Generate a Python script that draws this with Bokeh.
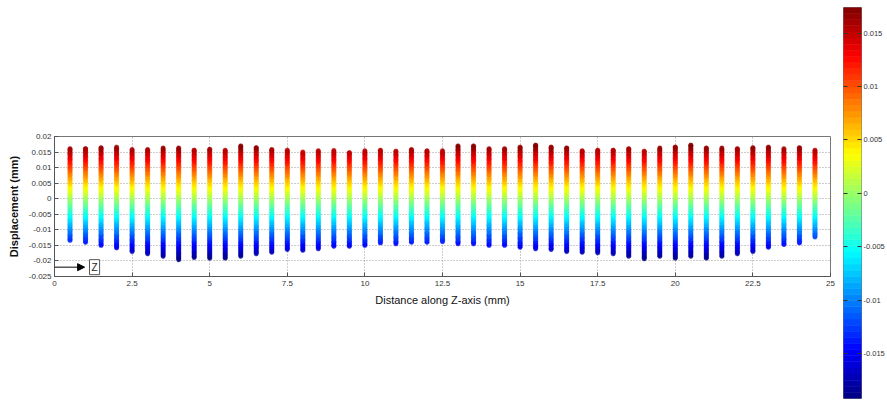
import numpy as np
from bokeh.plotting import figure
from bokeh.layouts import row
from bokeh.models import (Range1d, LinearColorMapper, FixedTicker, LinearAxis,
                          Label, Arrow, NormalHead, ColumnDataSource)
from bokeh.transform import transform
from bokeh.embed import file_html
from bokeh.resources import INLINE

# ---------------- data ----------------
z_positions = [0.5, 1.0, 1.5, 2.0, 2.5, 3.0, 3.5, 4.0, 4.5, 5.0, 5.5, 6.0, 6.5,
               7.0, 7.5, 8.0, 8.5, 9.0, 9.5, 10.0, 10.5, 11.0, 11.5, 12.0, 12.5,
               13.0, 13.5, 14.0, 14.5, 15.0, 15.5, 16.0, 16.5, 17.0, 17.5, 18.0,
               18.5, 19.0, 19.5, 20.0, 20.5, 21.0, 21.5, 22.0, 22.5, 23.0, 23.5,
               24.0, 24.5]
# highest displacement of each column of nodes (mm)
col_top = [0.0161, 0.0161, 0.0164, 0.0166, 0.0158, 0.0158, 0.0163, 0.0163, 0.0156,
           0.0159, 0.0156, 0.0170, 0.0164, 0.0158, 0.0156, 0.0150, 0.0154, 0.0155,
           0.0148, 0.0154, 0.0156, 0.0153, 0.0158, 0.0154, 0.0154,
           0.0170, 0.0170, 0.0161, 0.0161, 0.0166, 0.0172, 0.0166, 0.0163, 0.0154,
           0.0156, 0.0156, 0.0161, 0.0153, 0.0163, 0.0166, 0.0172, 0.0163, 0.0163,
           0.0161, 0.0164, 0.0166, 0.0161, 0.0164, 0.0156]
# lowest displacement of each column of nodes (mm)
col_bottom = [-0.0134, -0.0140, -0.0150, -0.0158, -0.0170, -0.0177, -0.0185, -0.0196,
              -0.0189, -0.0191, -0.0191, -0.0185, -0.0177, -0.0172, -0.0163, -0.0166,
              -0.0161, -0.0153, -0.0153, -0.0150, -0.0142, -0.0145, -0.0140, -0.0140,
              -0.0138,
              -0.0145, -0.0145, -0.0150, -0.0150, -0.0156, -0.0161, -0.0163, -0.0170,
              -0.0172, -0.0174, -0.0177, -0.0185, -0.0193, -0.0185, -0.0191, -0.0185,
              -0.0191, -0.0185, -0.0177, -0.0170, -0.0156, -0.0147, -0.0142, -0.0123]
node_spacing = 0.0004          # vertical spacing of the plotted nodes (mm)

x_ticks = [0, 2.5, 5, 7.5, 10, 12.5, 15, 17.5, 20, 22.5, 25]
x_tick_labels = ["0", "2.5", "5", "7.5", "10", "12.5", "15", "17.5", "20", "22.5", "25"]
y_ticks = [-0.025, -0.02, -0.015, -0.01, -0.005, 0, 0.005, 0.01, 0.015, 0.02]
y_tick_labels = ["-0.025", "-0.02", "-0.015", "-0.01", "-0.005", "0", "0.005",
                 "0.01", "0.015", "0.02"]
cb_ticks = [-0.015, -0.01, -0.005, 0, 0.005, 0.01, 0.015]
cb_tick_labels = ["-0.015", "-0.01", "-0.005", "0", "0.005", "0.01", "0.015"]
cb_low, cb_high = -0.0192, 0.0174

# ---------------- colormap (MATLAB jet, 64 levels) ----------------
def jet(n):
    out = []
    for i in range(n):
        t = (i + 0.5) / n
        r = min(max(1.5 - abs(4 * t - 3), 0), 1)
        g = min(max(1.5 - abs(4 * t - 2), 0), 1)
        b = min(max(1.5 - abs(4 * t - 1), 0), 1)
        out.append("#%02x%02x%02x" % (int(r * 255 + .5), int(g * 255 + .5), int(b * 255 + .5)))
    return out

palette = jet(64)
mapper = LinearColorMapper(palette=palette, low=cb_low, high=cb_high)

# ---------------- nodes ----------------
xs, ys = [], []
for zx, lo, hi in zip(z_positions, col_bottom, col_top):
    vals = list(np.arange(lo, hi, node_spacing)) + [hi]
    xs += [zx] * len(vals)
    ys += vals
src = ColumnDataSource(dict(x=xs, y=ys))

FONT = "Liberation Sans"

p = figure(width=836, height=403, x_range=Range1d(0, 25), y_range=Range1d(-0.025, 0.02),
           output_backend="svg", toolbar_location=None, frame_align=False,
           min_border_left=54, min_border_right=6, min_border_top=136, min_border_bottom=127)
p.background_fill_color = "white"
p.border_fill_color = "white"
p.outline_line_color = "#777777"

p.scatter("x", "y", source=src, size=4.4, fill_alpha=0.85,
          fill_color=transform("y", mapper), line_color=transform("y", mapper),
          line_width=0.5, line_alpha=0.85)

p.xaxis.ticker = FixedTicker(ticks=x_ticks)
p.xaxis.major_label_overrides = {t: l for t, l in zip(x_ticks, x_tick_labels)}
p.yaxis.ticker = FixedTicker(ticks=y_ticks)
p.yaxis.major_label_overrides = {t: l for t, l in zip(y_ticks, y_tick_labels)}
p.xgrid.ticker = FixedTicker(ticks=x_ticks)
p.ygrid.ticker = FixedTicker(ticks=y_ticks)
for g in (p.xgrid, p.ygrid):
    g.grid_line_color = "#9a9a9a"
    g.grid_line_dash = "1 2"
    g.grid_line_width = 1

for ax in (p.xaxis, p.yaxis):
    ax.major_tick_in = 4
    ax.major_tick_out = 0
    ax.minor_tick_line_color = None
    ax.axis_line_color = "#555555"
    ax.major_tick_line_color = "#555555"
    ax.major_label_text_font = FONT
    ax.major_label_text_font_size = "8px"
    ax.major_label_text_color = "#333333"
    ax.axis_label_text_font = FONT
    ax.axis_label_text_font_size = "11px"
    ax.axis_label_text_color = "#111111"
    ax.axis_label_text_font_style = "normal"
p.xaxis.major_label_standoff = 4
p.yaxis.major_label_standoff = 3
p.xaxis.axis_label = "Distance along Z-axis (mm)"
p.yaxis.axis_label = "Displacement (mm)"
p.yaxis.axis_label_text_font_style = "bold"
p.xaxis.axis_label_standoff = 5
p.yaxis.axis_label_standoff = 6

# Z direction marker
arrow_y = -0.022
p.add_layout(Arrow(end=NormalHead(size=7, fill_color="black", line_color="black"),
                   x_start=0, y_start=arrow_y, x_end=0.97, y_end=arrow_y,
                   line_color="black", line_width=1))
p.add_layout(Label(x=1.29, y=arrow_y, text="Z", text_font=FONT, text_font_size="10px",
                   text_align="center", text_baseline="middle", text_color="#222222",
                   border_line_color="#555555", background_fill_color="white", padding=2))

# ---------------- colour bar ----------------
cb = figure(width=51, height=403, x_range=Range1d(0, 1), y_range=Range1d(cb_low, cb_high),
            x_axis_location=None, y_axis_location="right", frame_align=False,
            output_backend="svg", toolbar_location=None,
            min_border_left=7, min_border_right=26, min_border_top=7, min_border_bottom=5)
cb.grid.visible = False
cb.outline_line_color = "#777777"
n = len(palette)
edges = [cb_low + i * (cb_high - cb_low) / n for i in range(n + 1)]
cb.quad(left=0, right=1, bottom=edges[:-1], top=edges[1:], fill_color=palette,
        line_color=palette, line_width=0.6)

rax = cb.yaxis[0]
rax.ticker = FixedTicker(ticks=cb_ticks)
rax.major_label_overrides = {t: l for t, l in zip(cb_ticks, cb_tick_labels)}
lax = LinearAxis(ticker=FixedTicker(ticks=cb_ticks),
                 major_label_overrides={t: "" for t in cb_ticks})
cb.add_layout(lax, "left")
for ax in (rax, lax):
    ax.major_tick_in = 4
    ax.major_tick_out = 0
    ax.minor_tick_line_color = None
    ax.axis_line_color = None
    ax.major_tick_line_color = "#333333"
    ax.major_label_text_font = FONT
    ax.major_label_text_font_size = "7.5px"
    ax.major_label_text_color = "#333333"
rax.major_label_standoff = 2
lax.major_label_standoff = 0

layout = row(p, cb)
open("out.html", "w").write(file_html(layout, INLINE))
